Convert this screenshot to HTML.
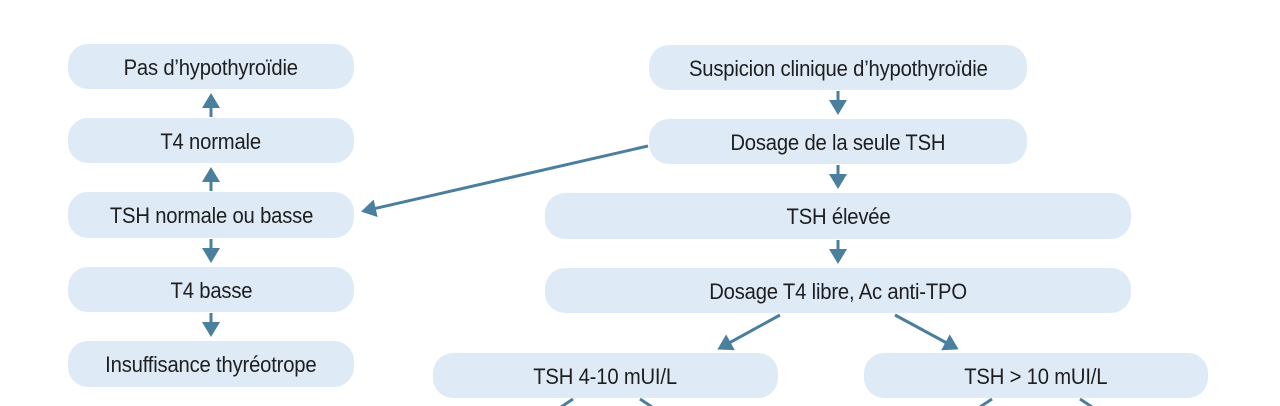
<!DOCTYPE html>
<html><head><meta charset="utf-8"><style>
body{margin:0;width:1280px;height:406px;background:#fff;overflow:hidden;position:relative;font-family:"Liberation Sans",sans-serif}
.b{position:absolute;background:#deebf7;border-radius:20px;display:flex;align-items:center;justify-content:center;color:#1e1e1e;font-size:22px}
.b span{display:inline-block;transform:scaleX(0.92);white-space:nowrap;letter-spacing:-0.2px;position:relative;top:1px}
svg{position:absolute;left:0;top:0}
</style></head><body>
<div class="b" style="left:68px;top:44px;width:286px;height:45px"><span>Pas d’hypothyroïdie</span></div>
<div class="b" style="left:68px;top:118px;width:286px;height:45px"><span>T4 normale</span></div>
<div class="b" style="left:68px;top:192px;width:286px;height:46px"><span>TSH normale ou basse</span></div>
<div class="b" style="left:68px;top:267px;width:286px;height:45px"><span>T4 basse</span></div>
<div class="b" style="left:68px;top:341px;width:286px;height:46px"><span>Insuffisance thyréotrope</span></div>
<div class="b" style="left:649px;top:45px;width:378px;height:45px"><span>Suspicion clinique d’hypothyroïdie</span></div>
<div class="b" style="left:649px;top:119px;width:378px;height:45px"><span>Dosage de la seule TSH</span></div>
<div class="b" style="left:545px;top:193px;width:586px;height:46px"><span>TSH élevée</span></div>
<div class="b" style="left:545px;top:268px;width:586px;height:45px"><span>Dosage T4 libre, Ac anti-TPO</span></div>
<div class="b" style="left:433px;top:353px;width:345px;height:45px"><span>TSH 4-10 mUI/L</span></div>
<div class="b" style="left:864px;top:353px;width:344px;height:45px"><span>TSH &gt; 10 mUI/L</span></div>
<svg width="1280" height="406">
<defs><marker id="a" markerWidth="6" markerHeight="6" refX="4" refY="3" orient="auto" markerUnits="strokeWidth"><path d="M0,0 L5,3 L0,6 Z" fill="#4a7f9e"/></marker></defs>
<g stroke="#4a7f9e" stroke-width="3" fill="none">
<line x1="211" y1="117" x2="211" y2="96" marker-end="url(#a)"/>
<line x1="211" y1="191" x2="211" y2="170" marker-end="url(#a)"/>
<line x1="211" y1="239" x2="211" y2="260" marker-end="url(#a)"/>
<line x1="211" y1="313" x2="211" y2="334" marker-end="url(#a)"/>
<line x1="838" y1="91" x2="838" y2="112" marker-end="url(#a)"/>
<line x1="838" y1="165" x2="838" y2="186" marker-end="url(#a)"/>
<line x1="838" y1="240" x2="838" y2="261" marker-end="url(#a)"/>
<line x1="648" y1="146" x2="364" y2="211" marker-end="url(#a)"/>
<line x1="780" y1="315" x2="720" y2="348" marker-end="url(#a)"/>
<line x1="895" y1="315" x2="956" y2="348" marker-end="url(#a)"/>
<line x1="573" y1="399" x2="561" y2="407"/>
<line x1="640" y1="399" x2="652" y2="407"/>
<line x1="992" y1="399" x2="980" y2="407"/>
<line x1="1080" y1="399" x2="1092" y2="407"/>
</g></svg>
</body></html>
